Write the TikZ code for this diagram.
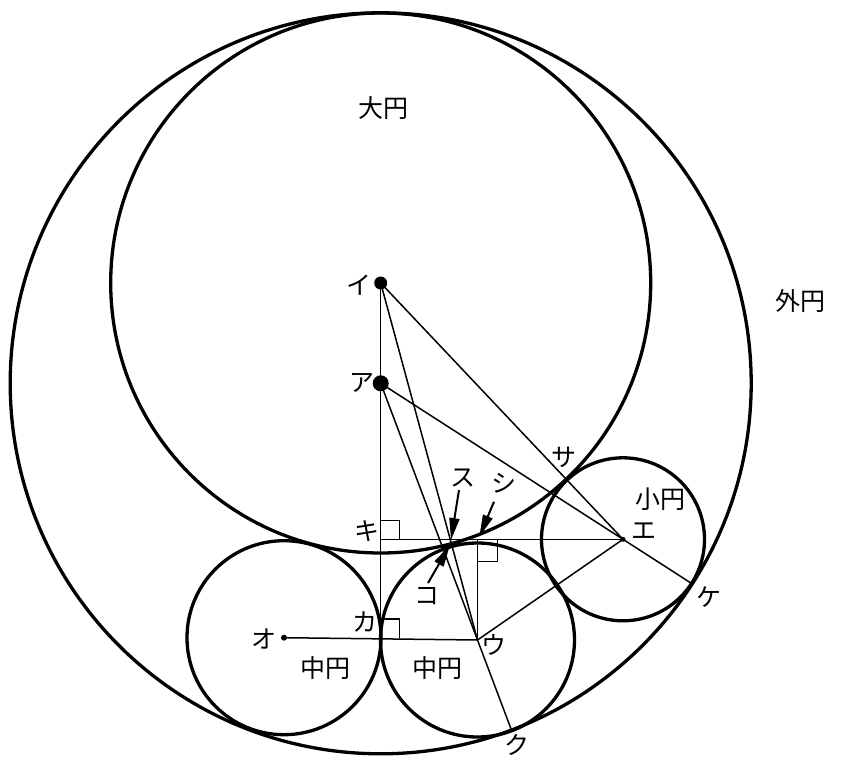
\documentclass[tikz,border=0pt]{standalone}
\usepackage{fontspec}
\newfontfamily\cjk{Noto Sans CJK JP}
\usetikzlibrary{calc,arrows.meta}
\begin{document}
\begin{tikzpicture}[x=1pt,y=-1pt,
  circ/.style={line width=3.3pt},
  aux/.style={line width=1.5pt},
  ptr/.style={line width=2pt,-{Triangle[length=22pt,width=10pt]}},
  lbl/.style={font=\cjk\fontsize{25}{25}\selectfont, inner sep=0pt, anchor=center}]
\useasboundingbox (0,0) rectangle (841,760);
% key points
\coordinate (A) at (380.7,383.3);   % ア
\coordinate (I) at (380.7,283);     % イ
\coordinate (U) at (477.5,640);     % ウ
\coordinate (E) at (623,539.3);     % エ
\coordinate (O) at (284,637.7);     % オ
\coordinate (Ka) at (380.7,638);    % カ
\coordinate (Ki) at (380.7,539.3);  % キ
\coordinate (F) at (477.5,539.3);   % foot from ウ
\coordinate (Ku) at ($(A)!370.5pt!(U)$); % ク
\coordinate (Ke) at ($(A)!370.5pt!(E)$); % ケ
% auxiliary lines
\draw[aux] (I) -- (Ka);
\draw[aux] (I) -- (U);
\draw[aux] (I) -- (E);
\draw[aux] (A) -- (Ku);
\draw[aux] (A) -- (Ke);
\draw[aux] (Ki) -- (E);
\draw[aux] (U) -- (F);
\draw[aux] (O) -- (U);
\draw[aux] (U) -- (E);
% right-angle marks
\draw[aux] ($(Ki)+(0,-19)$) -- ++(19,0) -- ++(0,19);
\draw[aux] ($(Ka)+(0,-19)$) -- ++(19,0) -- ++(0,19);
\draw[aux] ($(F)+(0,22)$) -- ++(20,0) -- ++(0,-22);
% circles
\draw[circ] (A) circle[radius=370.5pt];
\draw[circ] (I) circle[radius=270pt];
\draw[circ] (O) circle[radius=97pt];
\draw[circ] (U) circle[radius=97pt];
\draw[circ] (E) circle[radius=81.5pt];
% dots
\fill (I) circle[radius=6.5pt];
\fill (A) circle[radius=8pt];
\fill (O) circle[radius=3pt];
\fill (E) circle[radius=2.5pt];
% arrows
\coordinate (suT) at (459,490);   \coordinate (suH) at (451,540);
\coordinate (siT) at (494,501.7); \coordinate (siH) at (479.3,536.7);
\coordinate (koT) at (428,583);   \coordinate (koH) at (450,545);
\draw[ptr] (suT) -- (suH);
\draw[ptr] (siT) -- (siH);
\draw[ptr] (koT) -- (koH);
% labels
\node[lbl] (lDai) at (383,108) {大円};
\node[lbl] (lGai) at (800,301) {外円};
\node[lbl] (lI) at (359,285) {イ};
\node[lbl] (lA) at (362,383) {ア};
\node[lbl] (lSa) at (564,457) {サ};
\node[lbl] (lSu) at (463,478) {ス};
\node[lbl] (lSi) at (504,483) {シ};
\node[lbl] (lKi) at (367,531) {キ};
\node[lbl] (lSho) at (660,499) {小円};
\node[lbl] (lE) at (644,531) {エ};
\node[lbl] (lKe) at (709,597) {ケ};
\node[lbl] (lKo) at (427,596) {コ};
\node[lbl] (lKa) at (365,622) {カ};
\node[lbl] (lO) at (264,639) {オ};
\node[lbl] (lU) at (494,645) {ウ};
\node[lbl] (lChu1) at (325,668) {中円};
\node[lbl] (lChu2) at (437,668) {中円};
\node[lbl] (lKu) at (517,745) {ク};
\end{tikzpicture}
\end{document}
